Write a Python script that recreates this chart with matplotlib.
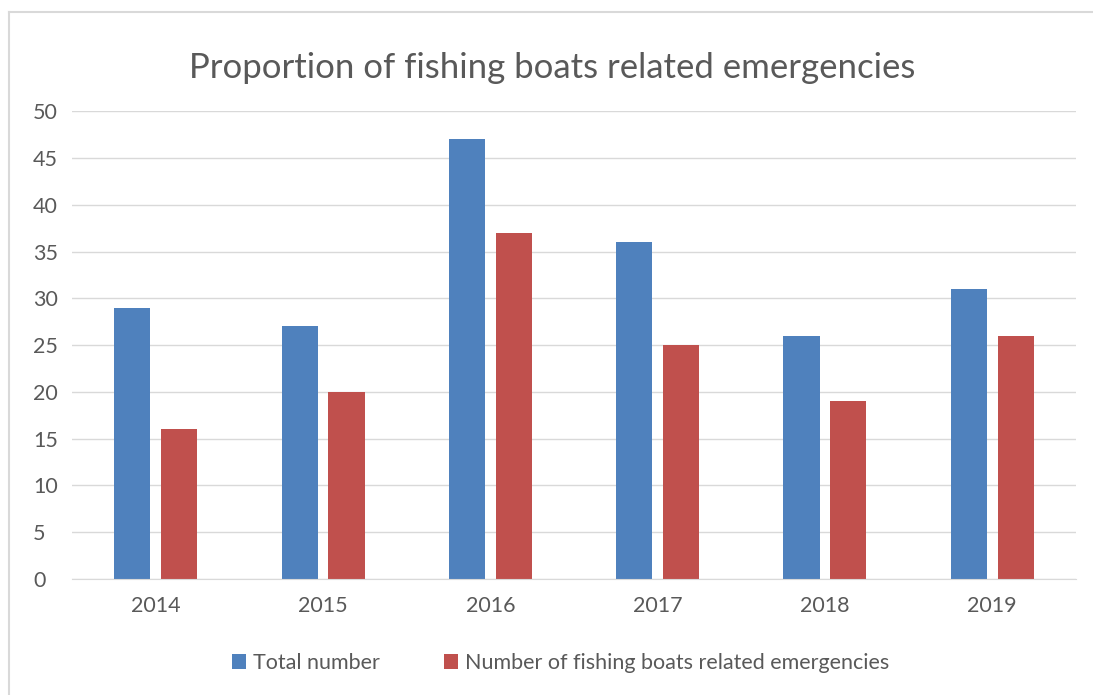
import numpy as np
import matplotlib.pyplot as plt
from matplotlib.lines import Line2D

years = ['2014', '2015', '2016', '2017', '2018', '2019']
total_number = [29, 27, 47, 36, 26, 31]
fishing_emergencies = [16, 20, 37, 25, 19, 26]

blue = '#4F81BD'
red = '#C0504D'
text_col = '#595959'

plt.rcParams['font.family'] = ['Lato', 'DejaVu Sans']

fig = plt.figure(figsize=(10.93, 6.95), dpi=100)
ax = fig.add_axes([0.0659, 0.167, 0.9185, 0.673])

x = np.arange(len(years))
w = 0.216
ax.bar(x - 0.14, total_number, w, color=blue, label='Total number')
ax.bar(x + 0.14, fishing_emergencies, w, color=red,
       label='Number of fishing boats related emergencies')

ax.set_xlim(-0.5, len(years) - 0.5)
ax.set_ylim(0, 50)
ax.set_yticks(range(0, 51, 5))
ax.set_xticks(x)
ax.set_xticklabels(years)
ax.grid(axis='y', color='#D9D9D9', linewidth=1)
ax.set_axisbelow(True)
for s in ['top', 'right', 'left']:
    ax.spines[s].set_visible(False)
ax.spines['bottom'].set_color('#D9D9D9')
ax.tick_params(length=0, labelsize=15.5, colors=text_col, pad=12)
ax.tick_params(axis='y', pad=28)
for lbl in ax.get_yticklabels():
    lbl.set_horizontalalignment('left')

fig.text(0.505, 0.902, 'Proportion of fishing boats related emergencies',
         ha='center', va='center', fontsize=25, color=text_col)

fig.legend(loc='center', bbox_to_anchor=(0.513, 0.046), ncol=2, frameon=False,
           fontsize=15.5, labelcolor=text_col, handlelength=0.65, handleheight=0.65,
           handletextpad=0.3, columnspacing=3.0)

# outer chart border (only top and left visible in the crop)
bx, by = 8.5 / 1093, 1 - 11.5 / 695
fig.add_artist(Line2D([bx, 1.0], [by, by], transform=fig.transFigure,
                      color='#D9D9D9', linewidth=1.5))
fig.add_artist(Line2D([bx, bx], [0, by], transform=fig.transFigure,
                      color='#D9D9D9', linewidth=1.5))

fig.savefig('out.png', dpi=100)
